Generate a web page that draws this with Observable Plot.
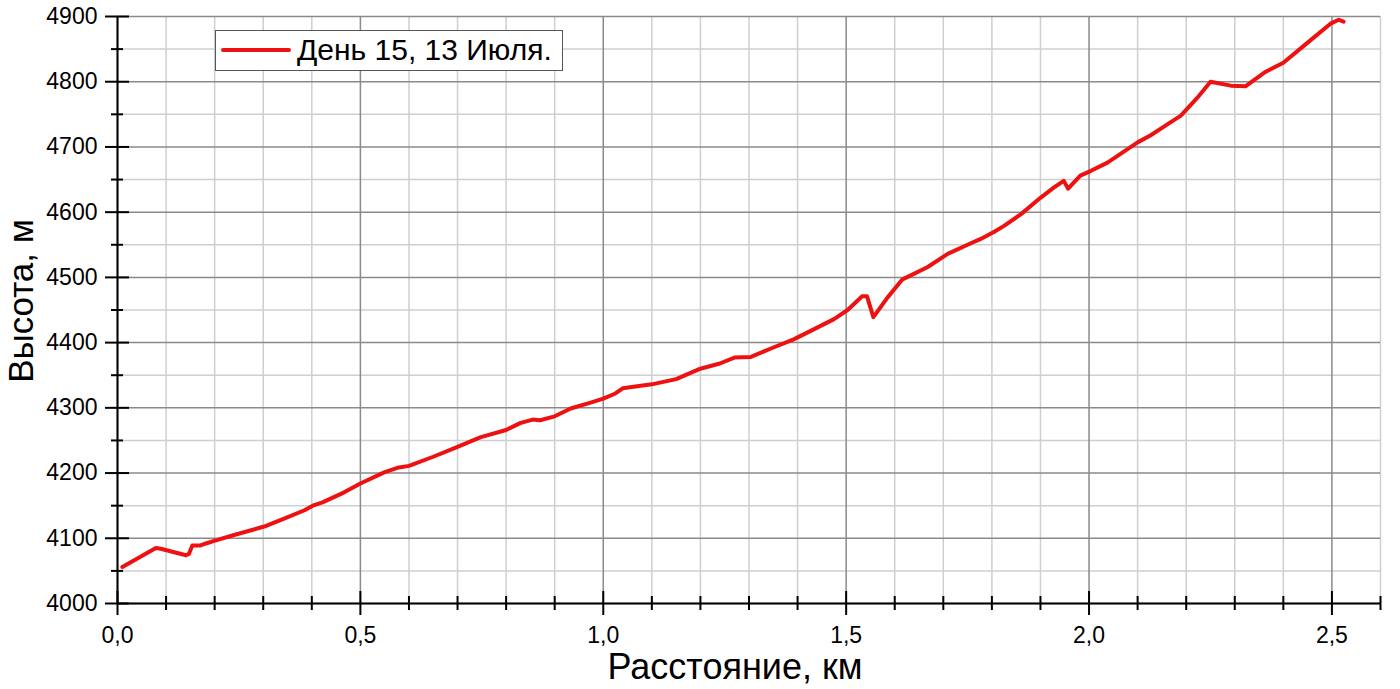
<!DOCTYPE html>
<html><head><meta charset="utf-8">
<script src="https://cdn.jsdelivr.net/npm/d3@7"></script>
<script src="https://cdn.jsdelivr.net/npm/@observablehq/plot@0.6"></script>
<style>
body{margin:0;background:#fff;}
#wrap{position:relative;width:1400px;height:689px;font-family:"Liberation Sans",Arial,sans-serif;}
#legend{position:absolute;left:215px;top:30px;width:348px;height:41px;border:1.5px solid #555;background:#fff;box-sizing:border-box;}
#legend .sw{position:absolute;left:5px;top:17px;width:70px;height:4px;background:#ee1111;border-radius:2px;}
#legend .lt{position:absolute;left:81px;top:2px;font-size:30px;line-height:34px;color:#000;white-space:nowrap;}
</style></head>
<body><div id="wrap"></div>
<script>
const distanceKm = [0.01,0.079,0.089,0.141,0.147,0.154,0.171,0.182,0.199,0.24,0.302,0.343,0.385,0.402,0.422,0.46,0.5,0.549,0.576,0.6,0.65,0.7,0.748,0.8,0.83,0.855,0.87,0.9,0.933,0.974,1.0,1.025,1.04,1.1,1.15,1.2,1.24,1.27,1.304,1.345,1.392,1.427,1.475,1.503,1.533,1.543,1.556,1.585,1.616,1.633,1.668,1.709,1.75,1.777,1.805,1.825,1.86,1.9,1.928,1.948,1.957,1.982,2.003,2.038,2.1,2.127,2.162,2.189,2.226,2.25,2.292,2.322,2.363,2.4,2.45,2.497,2.514,2.524];
const elevationM = [4056,4085,4084,4074,4076,4089,4089,4092,4096,4105,4118,4130,4143,4150,4155,4168,4184,4201,4208,4211,4225,4240,4255,4266,4277,4282,4281,4287,4299,4308,4314,4322,4330,4336,4344,4360,4368,4377,4378,4391,4405,4418,4436,4450,4471,4471,4439,4469,4497,4503,4516,4536,4550,4559,4570,4579,4597,4622,4638,4648,4636,4656,4663,4676,4707,4718,4735,4748,4778,4800,4794,4793,4815,4829,4860,4889,4895,4892];
const xMajorTicks = [0,0.5,1.0,1.5,2.0,2.5];
const xMinorTicks = [0.1,0.2,0.3,0.4,0.6,0.7,0.8,0.9,1.1,1.2,1.3,1.4,1.6,1.7,1.8,1.9,2.1,2.2,2.3,2.4,2.6];
const yMajorTicks = [4000,4100,4200,4300,4400,4500,4600,4700,4800,4900];
const yMinorTicks = [4050,4150,4250,4350,4450,4550,4650,4750,4850];
const seriesName = "День 15, 13 Июля.";
const xLabel = "Расстояние, км";
const yLabel = "Высота, м";

const data = distanceKm.map((d, i) => ({d, e: elevationM[i]}));
const fmtX = d => d.toFixed(1).replace(".", ",");

const chart = Plot.plot({
  width: 1400, height: 689,
  marginLeft: 117, marginRight: 20, marginTop: 16, marginBottom: 86,
  x: {domain: [0, 2.6]},
  y: {domain: [4000, 4900]},
  style: {fontFamily: "Liberation Sans, Arial, sans-serif", background: "white", color: "black"},
  marks: [
    Plot.ruleX(xMinorTicks, {stroke: "#cfcfcf", strokeWidth: 1.5}),
    Plot.ruleY(yMinorTicks, {stroke: "#cfcfcf", strokeWidth: 1.5}),
    Plot.ruleX(xMajorTicks, {stroke: "#8a8a8a", strokeWidth: 1.5}),
    Plot.ruleY(yMajorTicks, {stroke: "#8a8a8a", strokeWidth: 1.5}),
    Plot.line(data, {x: "d", y: "e", stroke: "#ee1111", strokeWidth: 4, strokeLinejoin: "round", strokeLinecap: "round"}),
    Plot.ruleX([0], {stroke: "black", strokeWidth: 2}),
    Plot.ruleY([4000], {stroke: "black", strokeWidth: 2}),
    Plot.ruleX(xMajorTicks, {y1: 4000, y2: 4000, insetTop: 12, insetBottom: 12, stroke: "black", strokeWidth: 2}),
    Plot.ruleX(xMinorTicks, {y1: 4000, y2: 4000, insetTop: 7, insetBottom: 7, stroke: "black", strokeWidth: 2}),
    Plot.ruleY(yMajorTicks, {x1: 0, x2: 0, insetLeft: 12, insetRight: 12, stroke: "black", strokeWidth: 2}),
    Plot.ruleY(yMinorTicks, {x1: 0, x2: 0, insetLeft: 6, insetRight: 6, stroke: "black", strokeWidth: 2}),
    Plot.axisX({ticks: xMajorTicks, tickFormat: fmtX, tickSize: 0, tickPadding: 23, fontSize: 23, label: null}),
    Plot.axisY({ticks: yMajorTicks, tickFormat: d => String(d), tickSize: 0, tickPadding: 20, fontSize: 23, label: null}),
    Plot.text([xLabel], {text: d => d, frameAnchor: "bottom", textAnchor: "middle", dx: -14, dy: 75, fontSize: 36}),
    Plot.text([yLabel], {text: d => d, frameAnchor: "left", textAnchor: "middle", lineAnchor: "middle", rotate: -90, dx: -96, dy: -9, fontSize: 35})
  ]
});
const wrap = document.getElementById("wrap");
wrap.appendChild(chart);
const leg = document.createElement("div");
leg.id = "legend";
leg.innerHTML = '<div class="sw"></div><div class="lt"></div>';
leg.querySelector(".lt").textContent = seriesName;
wrap.appendChild(leg);
</script>
</body></html>
